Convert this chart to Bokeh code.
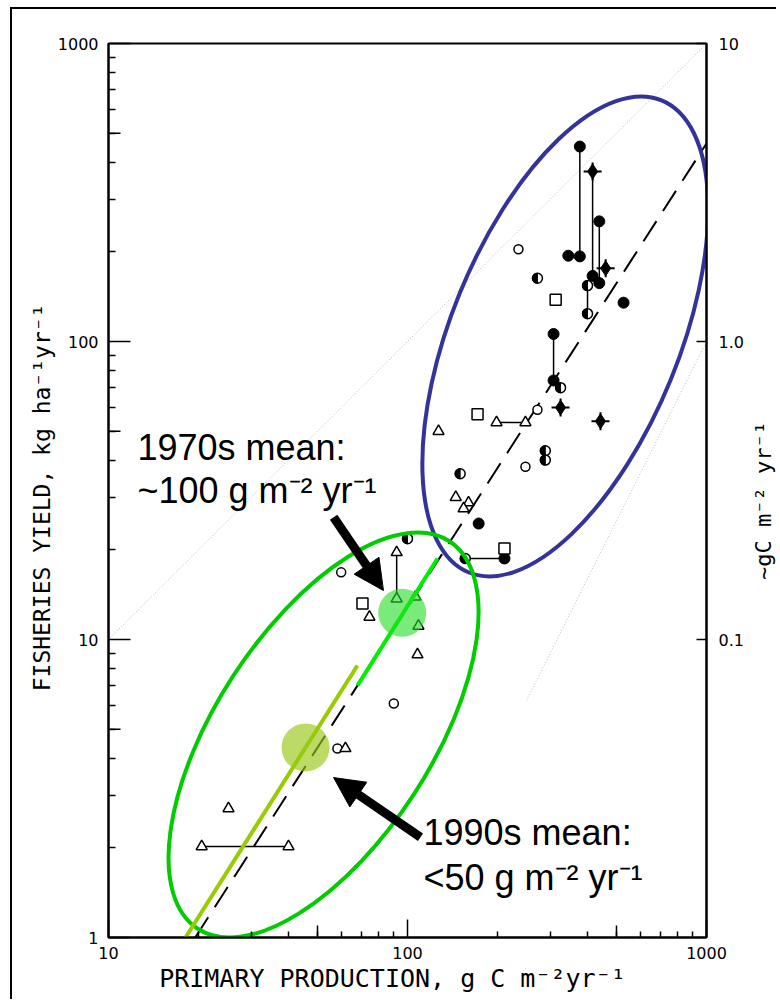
import math
from bokeh.plotting import figure
from bokeh.models import (Range1d, LogScale, LogAxis, FixedTicker, PrintfTickFormatter,
                          Arrow, NormalHead, Label)
from bokeh.embed import file_html
from bokeh.resources import INLINE

# ---------------- data ----------------
# filled circles
fc_x = [377, 377, 345, 438, 438, 416, 528, 308, 308, 173, 211]
fc_y = [451, 193, 194, 253, 157, 166, 135, 106, 74, 24.5, 18.7]
# filled star-like symbols
star_x = [416, 460, 325, 442]
star_y = [372, 176, 60, 54]
# half-filled circles
half_x = [272, 400, 400, 325, 289, 289, 150, 156, 100]
half_y = [163, 154, 124, 70, 43, 40, 36, 18.7, 21.8]
# open circles
oc_x = [235, 272, 248, 60, 90, 58.3]
oc_y = [204, 59, 38, 16.8, 6.1, 4.31]
# open squares
sq_x = [313, 171.5, 211, 70.7]
sq_y = [138, 57, 20.2, 13.2]
# open triangles
tri_x = [198.5, 248, 127, 145, 160, 154, 92, 92, 74.6, 106.4, 108.8, 108, 62, 25.2, 20.5, 40]
tri_y = [53.5, 53.5, 50, 30, 28.8, 27.5, 19.6, 13.7, 11.9, 13.9, 11.1, 8.9, 4.31, 2.71, 2.02, 2.02]
# range bars joining paired estimates
bar_x0 = [377, 416, 438, 400, 308, 92, 198.5, 156, 20.5]
bar_y0 = [451, 372, 253, 154, 106, 19.6, 53.5, 18.7, 2.02]
bar_x1 = [377, 416, 438, 400, 308, 92, 248, 211, 40]
bar_y1 = [193, 166, 157, 124, 74, 13.7, 53.5, 18.7, 2.02]

# overall regression (dashed) and reference lines (faint dotted)
reg_x = [19.5, 1000]
reg_y = [1, 462]
one_x = [10, 1000]
one_y = [10, 1000]
sq_line_x = [250, 1000]
sq_line_y = [6.25, 100]

# 1970s / 1990s fitted lines and means
l70_x = [68, 126]
l70_y = [7.0, 18.7]
l90_x = [18.1, 68]
l90_y = [1, 8.18]
mean70_x = [96]
mean70_y = [12.3]
mean90_x = [45.6]
mean90_y = [4.34]

# highlight ellipses: centre (data), width/height (px), angle (deg)
blue_ell = dict(x=[337], y=[104], w=[510], h=[228], ang=[67.8])
green_ell = dict(x=[52.4], y=[4.78], w=[462], h=[216], ang=[57.0])

# arrows (tail -> tip)
arr70 = dict(x0=56.6, y0=25.7, x1=83.1, y1=14.6)
arr90 = dict(x0=110.5, y0=2.17, x1=56.6, y1=3.44)

# annotation texts
txt70 = ["1970s mean:", "~100 g m\u207b\u00b2 yr\u207b\u00b9"]
txt70_x = 12.5
txt70_y = [44.1, 31.6]
txt90 = ["1990s mean:", "<50 g m\u207b\u00b2 yr\u207b\u00b9"]
txt90_x = 113.1
txt90_y = [2.25, 1.59]

y_ticks = [1, 10, 100, 1000]
x_ticks = [10, 100, 1000]
half_decade_y = [5, 50, 500]
half_decade_x = [50, 500]
r_ticks = [0.1, 1, 10]
r_labels = {0.1: "0.1", 1: "1.0", 10: "10"}
right_title = "~gC  m\u207b\u00b2  yr\u207b\u00b9"
right_title_pos = (1551, 32.4)   # in the left/bottom data coordinates

# ---------------- figure ----------------
p = figure(x_axis_type="log", y_axis_type="log",
           x_range=Range1d(10, 1000), y_range=Range1d(1, 1000),
           frame_width=598, frame_height=894,
           min_border_left=96, min_border_top=34, min_border_right=70, min_border_bottom=62,
           output_backend="svg", toolbar_location=None,
           background_fill_color="white", border_fill_color="white")
p.extra_y_ranges = {"r": Range1d(0.01, 10)}
p.extra_y_scales = {"r": LogScale()}
p.styles = {"border-left": "2px solid black", "border-top": "2px solid black",
            "margin-left": "10px", "margin-top": "7px"}

p.grid.visible = False
p.outline_line_color = "black"
p.outline_line_width = 2

axfont = "DejaVu Sans"
titlefont = "DejaVu Sans Mono"

def minors(decades):
    out = []
    for d in decades:
        out += [d * k for k in range(2, 10)]
    return out

ya = p.yaxis[0]
ya.ticker = FixedTicker(ticks=y_ticks, minor_ticks=minors([1, 10, 100]))
ya.formatter = PrintfTickFormatter(format="%d")
ya.axis_label = "FISHERIES YIELD,  kg ha\u207b\u00b9yr\u207b\u00b9"

xa = p.xaxis[0]
xa.ticker = FixedTicker(ticks=x_ticks, minor_ticks=minors([10, 100]))
xa.formatter = PrintfTickFormatter(format="%d")
xa.axis_label = "PRIMARY  PRODUCTION,  g C m\u207b\u00b2yr\u207b\u00b9"

# right axis: ticks and numbers
ra = LogAxis(y_range_name="r", ticker=FixedTicker(ticks=r_ticks, minor_ticks=[]),
             major_label_overrides=r_labels)
p.add_layout(ra, "right")

for ax in (ya, xa, ra):
    ax.axis_line_width = 2
    ax.axis_line_color = "black"
    ax.major_tick_out = 0
    ax.minor_tick_out = 0
    ax.major_tick_line_width = 1.5
    ax.minor_tick_line_width = 1.5
    ax.major_label_text_font = axfont
    ax.major_label_text_font_size = "16px"
    ax.major_label_text_color = "black"
for ax in (ya, xa):
    ax.axis_label_text_font = titlefont
    ax.axis_label_text_font_style = "normal"
    ax.axis_label_text_color = "black"
ya.major_tick_in = 22
ya.minor_tick_in = 7
ya.major_label_standoff = 10
ya.axis_label_standoff = 0
ya.axis_label_text_font_size = "23px"
xa.major_tick_in = 18
xa.minor_tick_in = 6
xa.major_label_standoff = 9
xa.axis_label_standoff = 2
xa.axis_label_text_font_size = "25px"
ra.major_tick_in = 10
ra.minor_tick_in = 0
ra.major_label_standoff = 12

# right-hand title, placed in the right side panel (not clipped to the frame)
p.add_layout(Label(x=right_title_pos[0], y=right_title_pos[1], text=right_title,
                   angle=math.pi / 2, text_align="center", text_baseline="middle",
                   text_font=titlefont, text_font_size="22px", text_color="black"), "right")

# longer half-decade ticks (inner half of a dash marker centred on the axis)
p.scatter([10] * len(half_decade_y), half_decade_y, marker="dash", size=24,
          line_color="black", line_width=1.5)
p.scatter(half_decade_x, [1] * len(half_decade_x), marker="dash", size=24, angle=math.pi / 2,
          line_color="black", line_width=1.5)

# faint reference lines
p.line(one_x, one_y, line_color="#bbbbbb", line_width=1, line_dash="1 2")
p.line(sq_line_x, sq_line_y, line_color="#bbbbbb", line_width=1, line_dash="1 2")
# dashed regression line
p.line(reg_x, reg_y, line_color="black", line_width=2, line_dash="24 12")

# range bars
p.segment(bar_x0, bar_y0, bar_x1, bar_y1, line_color="black", line_width=1.5)

# markers
p.scatter(fc_x, fc_y, marker="circle", size=11, fill_color="black", line_color="black")
p.scatter(star_x, star_y, marker="diamond", size=15, fill_color="black", line_color="black")
p.scatter(star_x, star_y, marker="cross", size=18, line_color="black", line_width=2)
p.scatter(half_x, half_y, marker="circle", size=10, fill_color="white", line_color="black", line_width=1.5)
p.wedge(half_x, half_y, radius=5, radius_units="screen", start_angle=math.pi / 2,
        end_angle=3 * math.pi / 2, fill_color="black", line_color="black")
p.scatter(oc_x, oc_y, marker="circle", size=9, fill_color="white", line_color="black", line_width=1.5)
p.scatter(sq_x, sq_y, marker="square", size=11, fill_color="white", line_color="black", line_width=1.5)
p.scatter(tri_x, tri_y, marker="triangle", size=11, fill_color="white", line_color="black", line_width=1.5)

# highlight ellipses
for e, col in ((blue_ell, "#333399"), (green_ell, "#00cc00")):
    p.ellipse(x=e["x"], y=e["y"], width=e["w"], height=e["h"],
              angle=[math.radians(a) for a in e["ang"]],
              width_units="screen", height_units="screen",
              fill_color=None, line_color=col, line_width=4)

# decade fits and means
p.line(l90_x, l90_y, line_color="#99cc00", line_width=4)
p.line(l70_x, l70_y, line_color="#00ee00", line_width=4)
p.scatter(mean70_x, mean70_y, marker="circle", size=48, fill_color="#22dd22", fill_alpha=0.6, line_color=None)
p.scatter(mean90_x, mean90_y, marker="circle", size=48, fill_color="#96c814", fill_alpha=0.65, line_color=None)

# arrows
for a in (arr70, arr90):
    p.add_layout(Arrow(end=NormalHead(size=30, fill_color="black", line_color="black", line_width=1),
                       x_start=a["x0"], y_start=a["y0"], x_end=a["x1"], y_end=a["y1"],
                       line_width=9, line_color="black"))

# annotation text
for txt, tx, tys in ((txt70, txt70_x, txt70_y), (txt90, txt90_x, txt90_y)):
    for t, ty in zip(txt, tys):
        p.add_layout(Label(x=tx, y=ty, text=t, text_font="Liberation Sans",
                           text_font_size="36px", text_baseline="alphabetic",
                           text_color="black"))

open("out.html", "w").write(file_html(p, INLINE))
